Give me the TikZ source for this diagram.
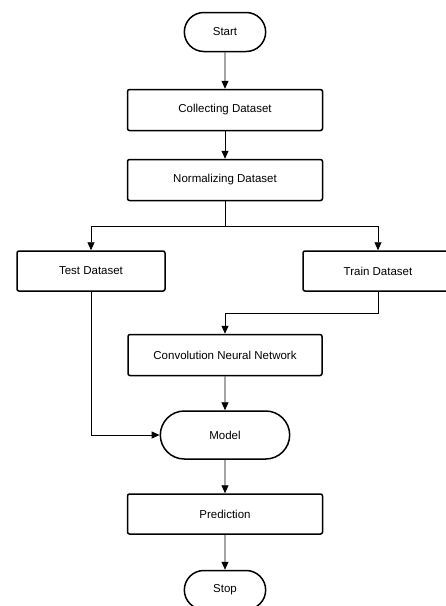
\documentclass[tikz,border=0pt]{standalone}
\usepackage{fontspec}
\setmainfont{Liberation Sans}
\usetikzlibrary{arrows.meta,shapes.misc}
\tikzset{
  procbox/.style={draw, line width=1.5pt, rounded corners=2pt, minimum width=195pt, minimum height=41pt, font=\fontsize{11.5}{14}\selectfont},
  termbox/.style={draw, line width=1.5pt, rounded rectangle, minimum width=88pt, minimum height=39pt, font=\fontsize{11.5}{14}\selectfont},
  flowline/.style={draw, line width=0.9pt},
  flowarrow/.style={flowline, -{Triangle[width=7pt,length=8pt]}}
}

\begin{document}
\begin{tikzpicture}[x=1pt,y=-1pt]
    \useasboundingbox (0,0) rectangle (446,606);
    \clip (0,0) rectangle (446,606);
    \node[termbox] (start) at (225,32) {Start};
    \node[procbox] (collect) at (225,110) {Collecting Dataset};
    \node[procbox] (normal) at (225,180) {Normalizing Dataset};
    \node[procbox, minimum width=148pt, minimum height=40pt] (test) at (91,271) {Test Dataset};
    \node[procbox, minimum width=150pt, minimum height=40pt] (train) at (378,271) {Train Dataset};
    \node[procbox, minimum width=194pt] (cnn) at (225,355) {Convolution Neural Network};
    \node[termbox, minimum width=136pt, minimum height=48pt] (model) at (225,435) {Model};
    \node[procbox, minimum height=40pt] (pred) at (225,514) {Prediction};
    \node[termbox] (stop) at (225,590) {Stop};
    \coordinate (split) at (225,226);
    \coordinate (trainbend) at (225,313);
    \draw[flowarrow] (start) -- (collect);
    \draw[flowarrow] (collect) -- (normal);
    \draw[flowline] (normal) -- (split);
    \draw[flowarrow] (split) -| (test);
    \draw[flowarrow] (split) -| (train);
    \draw[flowarrow] (train) |- (trainbend) -- (cnn);
    \draw[flowarrow] (test) |- (model);
    \draw[flowarrow] (cnn) -- (model);
    \draw[flowarrow] (model) -- (pred);
    \draw[flowarrow] (pred) -- (stop);
\end{tikzpicture}
\end{document}
